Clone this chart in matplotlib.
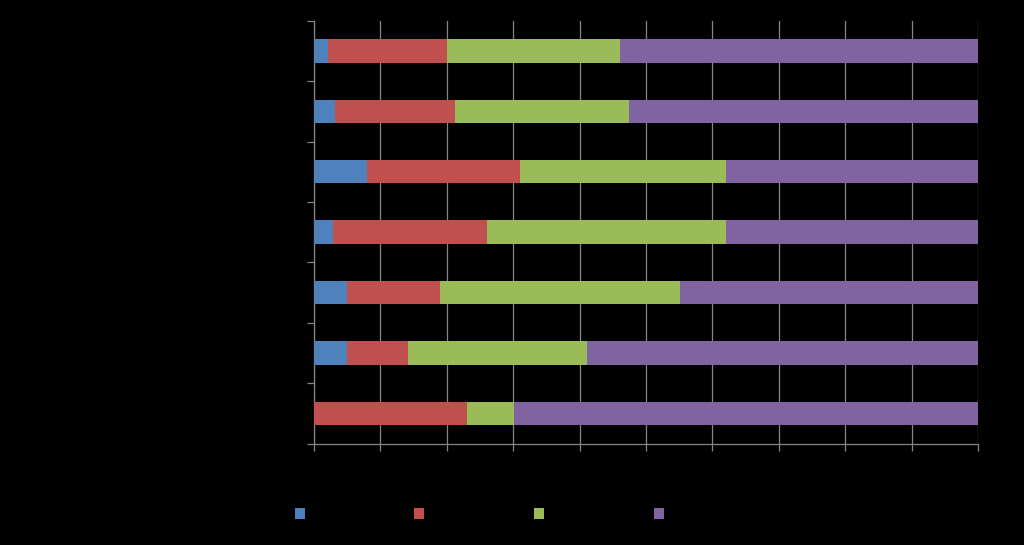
import matplotlib.pyplot as plt
from matplotlib.patches import Patch

# categories listed top to bottom, no readable labels in the picture
categories = ['1', '2', '3', '4', '5', '6', '7']
series_names = ['', '', '', '']
blue = [2.1, 3.2, 8.0, 2.9, 5.0, 5.0, 0.0]
red = [17.9, 18.0, 23.0, 23.2, 14.0, 9.2, 23.0]
green = [26.1, 26.2, 31.0, 35.9, 36.1, 26.9, 7.1]
purple = [53.9, 52.6, 38.0, 38.0, 44.9, 58.9, 69.9]
colors = ['#4F81BD', '#C0504D', '#9BBB59', '#8064A2']

fig = plt.figure(figsize=(10.24, 5.45), dpi=100, facecolor='black')
ax = fig.add_axes([0.3066, 0.1862, 0.6484, 0.7758], facecolor='black')

y = list(range(len(categories)))
left = [0.0] * len(categories)
for vals, c in zip([blue, red, green, purple], colors):
    ax.barh(y, vals, left=left, height=0.39, color=c, zorder=3)
    left = [l + v for l, v in zip(left, vals)]

ax.set_xlim(0, 100)
ax.set_ylim(len(categories) - 0.5, -0.5)
ax.set_xticks(range(0, 101, 10))
ax.set_yticks([i - 0.5 for i in range(len(categories) + 1)])
ax.set_xticklabels([])
ax.set_yticklabels([])
ax.grid(axis='x', color='#868686', linewidth=0.9, zorder=0)
ax.tick_params(axis='both', colors='#868686', length=5, width=0.9)
for s in ['top', 'right']:
    ax.spines[s].set_visible(False)
for s in ['left', 'bottom']:
    ax.spines[s].set_color('#868686')
    ax.spines[s].set_linewidth(0.9)

handles = [Patch(facecolor=c, edgecolor='none') for c in colors]
fig.legend(handles, series_names, loc='center', bbox_to_anchor=(0.468, 0.057),
           ncol=4, frameon=False, handlelength=0.72, handleheight=0.86,
           handletextpad=0.0, columnspacing=7.9, fontsize=10)

fig.savefig('out.png', dpi=100, facecolor='black')
